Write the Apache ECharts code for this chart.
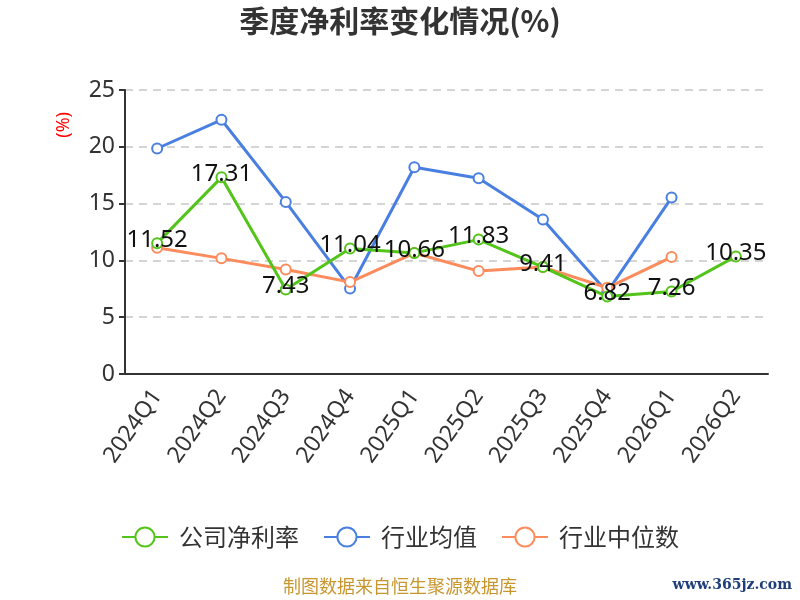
<!DOCTYPE html>
<html><head><meta charset="utf-8">
<script src="https://cdn.jsdelivr.net/npm/echarts@6/dist/echarts.min.js"></script>
<style>html,body{margin:0;padding:0;background:#fff}#c{width:800px;height:600px}</style>
</head><body><div id="c"></div>
<script>
const categories = ['2024Q1','2024Q2','2024Q3','2024Q4','2025Q1','2025Q2','2025Q3','2025Q4','2026Q1','2026Q2'];
const companyNet = [11.52, 17.31, 7.43, 11.04, 10.66, 11.83, 9.41, 6.82, 7.26, 10.35];
const industryAvg = [19.85, 22.38, 15.15, 7.53, 18.2, 17.24, 13.6, 7.2, 15.53, null];
const industryMedian = [11.12, 10.18, 9.2, 8.09, 10.65, 9.06, 9.41, 7.59, 10.29, null];
const seriesNames = ['公司净利率','行业均值','行业中位数'];
const yTicks = {min:0, max:25, interval:5};

const font = '"Noto Sans CJK SC", "Noto Sans", sans-serif';
const numFont = '"Noto Sans", "Open Sans", sans-serif';
const chart = echarts.init(document.getElementById('c'));
chart.setOption({
  backgroundColor:'#fff',
  title:{text:'季度净利率变化情况(%)', left:'center', top:1,
    textStyle:{fontSize:30, fontWeight:'bold', color:'#333', fontFamily:font}},
  graphic:[
    {type:'text', left:'center', top:577, style:{text:'制图数据来自恒生聚源数据库', fill:'#c8962e', font:'18px '+font}},
    {type:'text', right:8, top:578, style:{text:'www.365jz.com', fill:'#1f3f7a', font:'bold 14px "DejaVu Serif", serif'}}
  ],
  legend:{bottom:46, itemWidth:46, itemHeight:24, itemGap:24,
    textStyle:{fontSize:24, color:'#333', fontFamily:font, padding:[0,0,0,6]},
    data:seriesNames},
  grid:{left:125, right:32, top:90, bottom:226},
  xAxis:{type:'category', data:categories, boundaryGap:true,
    axisLine:{lineStyle:{color:'#333', width:2}},
    axisTick:{lineStyle:{color:'#333', width:2}, length:5},
    axisLabel:{rotate:55, fontSize:23, color:'#333', fontFamily:numFont, margin:18}},
  yAxis:{type:'value', min:yTicks.min, max:yTicks.max, interval:yTicks.interval,
    name:'(%)', nameLocation:'end', nameRotate:90, nameGap:0,
    nameTextStyle:{color:'#f00', fontSize:18, fontFamily:numFont, align:'right', verticalAlign:'bottom', padding:[0,22,52,0]},
    axisLine:{show:true, lineStyle:{color:'#333', width:2}},
    axisTick:{show:true, lineStyle:{color:'#333', width:2}, length:6},
    axisLabel:{fontSize:23, color:'#333', fontFamily:numFont, margin:10},
    splitLine:{lineStyle:{type:[8,6], color:'#c8c8c8', width:1.5}}},
  series:[
    {name:seriesNames[0], type:'line', data:companyNet, symbol:'emptyCircle', symbolSize:10,
     itemStyle:{color:'#52c41a'}, lineStyle:{width:3},
     label:{show:true, position:'inside', offset:[0,-3], fontSize:24, color:'#111', fontFamily:numFont}, z:3},
    {name:seriesNames[1], type:'line', data:industryAvg, symbol:'emptyCircle', symbolSize:10,
     itemStyle:{color:'#4a7fe2'}, lineStyle:{width:3}, z:2},
    {name:seriesNames[2], type:'line', data:industryMedian, symbol:'emptyCircle', symbolSize:10,
     itemStyle:{color:'#fd8b5c'}, lineStyle:{width:3}, z:2}
  ]
});
</script></body></html>
